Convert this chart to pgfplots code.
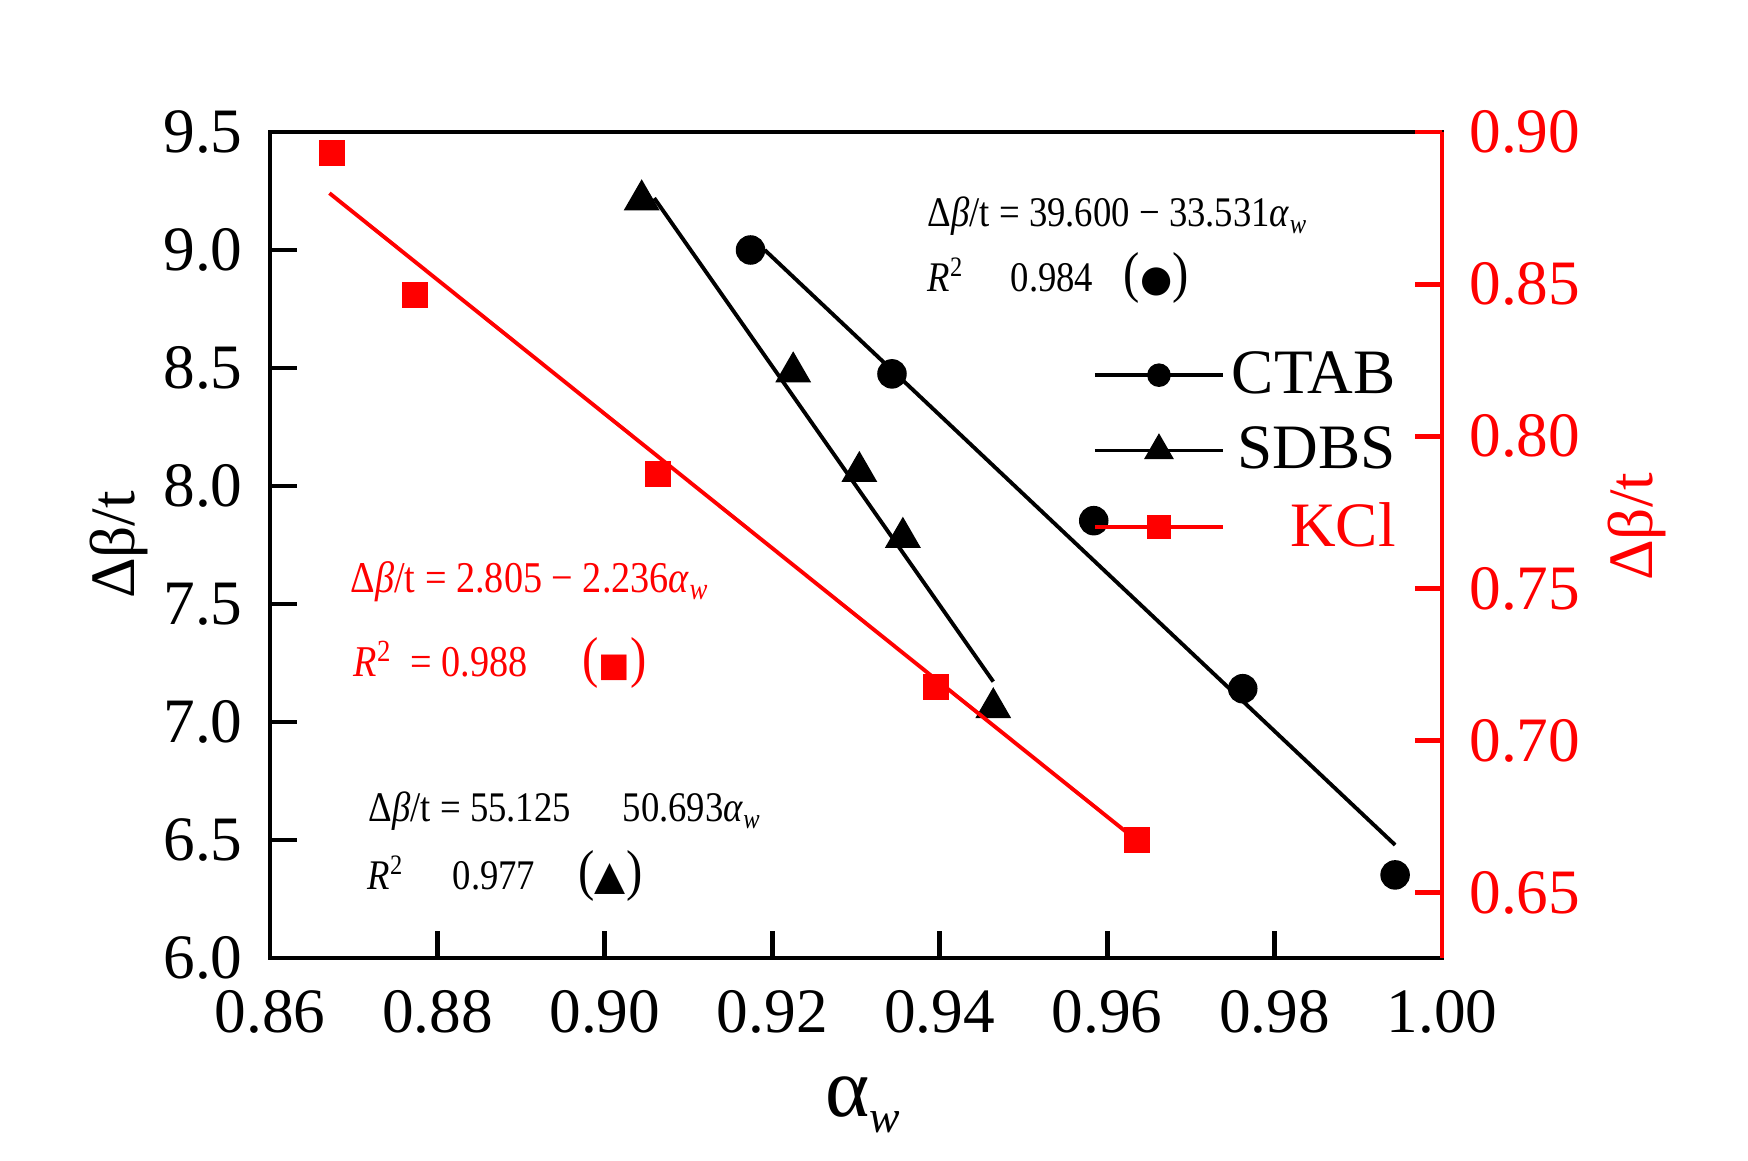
\documentclass[border=0pt]{standalone}
\usepackage{fontspec}
\setmainfont{Liberation Serif}
\newfontfamily\dejavu{DejaVu Sans}
\newfontfamily\cond[FakeStretch=0.87]{Liberation Serif}
\usepackage{pgfplots}
\pgfplotsset{compat=1.18}
\begin{document}
\begin{tikzpicture}
\useasboundingbox (-2.70,-2.03) rectangle (14.78,9.58);
\begin{axis}[
  scale only axis, width=11.72cm, height=8.26cm,
  xmin=0.86, xmax=1.00, ymin=6.0, ymax=9.5,
  xtick={0.86,0.88,0.90,0.92,0.94,0.96,0.98,1.00},
  ytick={6.0,6.5,7.0,7.5,8.0,8.5,9.0,9.5},
  xtick pos=bottom, ytick pos=left,
  tick align=inside, major tick length=0.27cm,
  axis line style={line width=1.4pt},
  tick style={black, line width=1.4pt},
  /pgf/number format/assume math mode=true,
  xticklabel style={yshift=-0.2cm, /pgf/number format/fixed, /pgf/number format/fixed zerofill, /pgf/number format/precision=2},
  yticklabel style={xshift=-0.15cm, /pgf/number format/fixed, /pgf/number format/fixed zerofill, /pgf/number format/precision=1},
  ticklabel style={font=\fontsize{18}{20}\selectfont},
  xlabel={{\fontsize{24}{26}\selectfont α}\raisebox{-0.16cm}{\fontsize{13}{14}\selectfont\textit{w}}},
  every axis x label/.style={at={(axis description cs:0.506,-0.1925)}, anchor=base},
  ylabel={Δβ/t},
  every axis y label/.style={at={(axis description cs:-0.129,0.50)}, rotate=90, anchor=center, font=\fontsize{18}{20}\selectfont},
  legend image code/.code={\draw[mark repeat=2,mark phase=2,#1] plot coordinates {(0cm,0cm) (0.64cm,0cm) (1.28cm,0cm)};},
  legend style={at={(0.976,0.752)}, anchor=north east, draw=none, fill=none, font=\fontsize{18}{20}\selectfont, row sep=4pt},
  legend cell align=right,
]
% CTAB
\addplot[only marks, mark=*, mark size=4pt, black, forget plot] coordinates {
 (0.9174,9.000) (0.9343,8.475) (0.9584,7.853) (0.9762,7.141) (0.9944,6.352)};
\addplot[black, line width=1.1pt, forget plot] coordinates {(0.9191,9.000) (0.9944,6.479)};
% SDBS
\addplot[only marks, mark=triangle*, mark size=5.5pt, black, forget plot] coordinates {
 (0.9044,9.212) (0.9225,8.483) (0.9304,8.061) (0.9356,7.782) (0.9464,7.060)};
\addplot[black, line width=1.1pt, forget plot] coordinates {(0.9059,9.220) (0.9464,7.171)};
\addlegendimage{black, line width=1.1pt, mark=*, mark size=2.8pt}
\addlegendentry{CTAB}
\addlegendimage{black, line width=1.1pt, mark=triangle*, mark size=3.8pt}
\addlegendentry{SDBS}
\addlegendimage{red, line width=1.1pt, mark=square*, mark size=2.8pt}
\addlegendentry{\textcolor{red}{KCl}}
% annotations
\tikzset{ann/.style={anchor=base west, inner sep=0pt, font=\cond\fontsize{12}{14}\selectfont}}
\node[ann] at (axis cs:0.93849,9.0975) {Δ\textit{β}/t = 39.600 − 33.531\textit{α}\textsubscript{\textit{w}}};
\node[ann] at (axis cs:0.93849,8.822) {\textit{R}\textsuperscript{2}};
\node[ann] at (axis cs:0.94840,8.822) {0.984};
\node[ann] at (axis cs:0.96190,8.822) {{\fontsize{16}{16}\selectfont(}{\dejavu\fontsize{10.5}{12}\selectfont ●}{\fontsize{16}{16}\selectfont)}};
\node[ann, red, font=\cond\fontsize{12.5}{14}\selectfont] at (axis cs:0.86956,7.5466) {Δ\textit{β}/t = 2.805 − 2.236\textit{α}\textsubscript{\textit{w}}};
\node[ann, red, font=\cond\fontsize{12.5}{14}\selectfont] at (axis cs:0.86992,7.1907) {\textit{R}\textsuperscript{2}};
\node[ann, red, font=\cond\fontsize{12.5}{14}\selectfont] at (axis cs:0.87672,7.1907) {= 0.988};
\node[ann, red] at (axis cs:0.89727,7.1907) {{\fontsize{16}{16}\selectfont(}{\dejavu\fontsize{9.5}{12}\selectfont ■}{\fontsize{16}{16}\selectfont)}};
\node[ann] at (axis cs:0.87171,6.5763) {Δ\textit{β}/t = 55.125};
\node[ann] at (axis cs:0.90205,6.5763) {50.693\textit{α}\textsubscript{\textit{w}}};
\node[ann] at (axis cs:0.87159,6.2881) {\textit{R}\textsuperscript{2}};
\node[ann] at (axis cs:0.88174,6.2881) {0.977};
\node[ann] at (axis cs:0.89679,6.2881) {{\fontsize{16}{16}\selectfont(}{\dejavu\fontsize{11.5}{12}\selectfont ▲}{\fontsize{16}{16}\selectfont)}};
\end{axis}
\begin{axis}[
  scale only axis, width=11.72cm, height=8.26cm,
  xmin=0.86, xmax=1.00, ymin=0.6286, ymax=0.90,
  axis x line=none, axis y line*=right,
  ytick={0.65,0.70,0.75,0.80,0.85,0.90},
  tick align=inside, major tick length=0.27cm,
  axis line style={-, red, line width=1.4pt},
  tick style={red, line width=1.4pt},
  /pgf/number format/assume math mode=true,
  yticklabel style={xshift=0.15cm, red, font=\fontsize{18}{20}\selectfont, /pgf/number format/fixed, /pgf/number format/fixed zerofill, /pgf/number format/precision=2},
  ylabel={Δβ/t},
  every axis y label/.style={at={(axis description cs:1.166,0.522)}, rotate=90, anchor=center, red, font=\fontsize{18}{20}\selectfont},
]
\addplot[only marks, mark=square*, mark size=3.5pt, red] coordinates {
 (0.8674,0.8930) (0.8773,0.8463) (0.9064,0.7877) (0.9396,0.7176) (0.9636,0.6673)};
\addplot[red, line width=1.1pt] coordinates {(0.8671,0.8799) (0.9636,0.6671)};
\end{axis}
\end{tikzpicture}
\end{document}
